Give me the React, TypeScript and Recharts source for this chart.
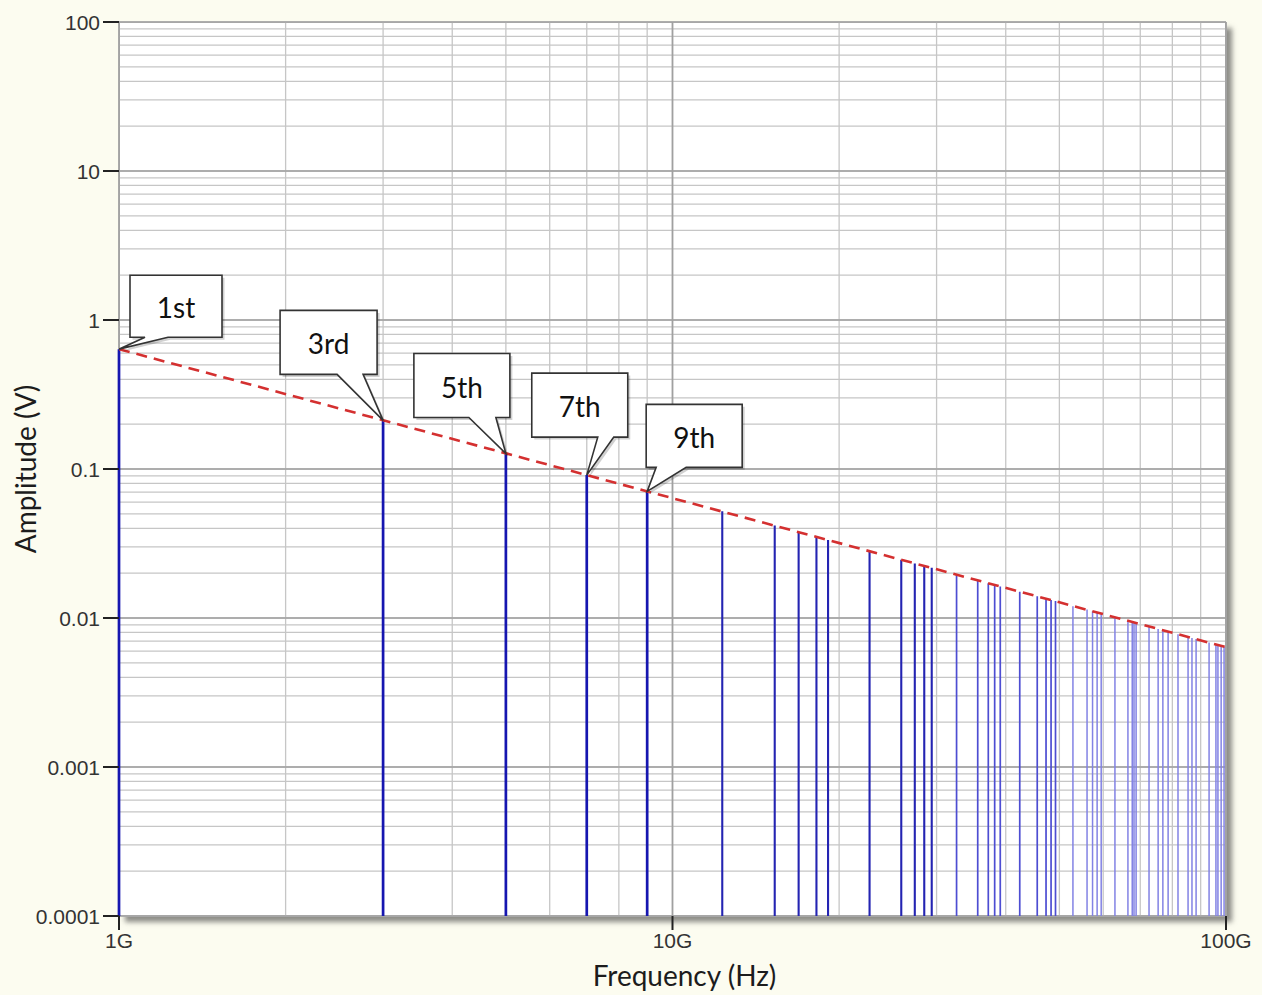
import { ComposedChart, XAxis, YAxis, CartesianGrid, Line, Scatter, ReferenceLine, Label } from 'recharts'

// spectral lines (GHz, volts)
const SPIKE_GHZ = [
  1, 3, 5, 7, 9, 12.3, 15.3, 16.9, 18.2, 19.1, 22.7, 25.9, 27.4, 28.5, 29.4, 32.6, 35.6, 37.2, 38.2, 39.1,
  42.4, 45.6, 47.3, 48.3, 49.2, 52.9, 56.1, 57.4, 58.5, 59.5, 63.0, 66.5, 67.7, 68.2, 68.8, 72.6, 75.4, 76.9,
  78.6, 81.9, 85.4, 86.8, 88.3, 93.2, 95.9, 96.7, 98.0, 99.2,
]
const SPIKE_AMP = [
  0.637, 0.212, 0.127, 0.091, 0.0708, 0.052, 0.0417, 0.0376, 0.0351, 0.0334, 0.028, 0.0246, 0.0232, 0.0223,
  0.0217, 0.0196, 0.0179, 0.0171, 0.0167, 0.0163, 0.015, 0.014, 0.0135, 0.0132, 0.013, 0.012, 0.0114, 0.0111,
  0.0109, 0.0107, 0.0101, 0.00957, 0.00942, 0.00934, 0.00926, 0.00878, 0.00845, 0.00828, 0.00811, 0.00778,
  0.00746, 0.00734, 0.00722, 0.00684, 0.00664, 0.00659, 0.0065, 0.00642,
]
const CALLOUT_LABELS = ['1st', '3rd', '5th', '7th', '9th']
const ENVELOPE_GHZ = [1, 100]
const ENVELOPE_AMP = [0.637, 0.00637]

const X_DECADES = [1, 10, 100]
const X_TICK_LABELS = ['1G', '10G', '100G']
const Y_DECADES = [0.0001, 0.001, 0.01, 0.1, 1, 10, 100]
const Y_TICK_LABELS = ['0.0001', '0.001', '0.01', '0.1', '1', '10', '100']
const MINOR_STEPS = [1, 2, 3, 4, 5, 6, 7, 8, 9]

const X_GRID = X_DECADES.slice(0, -1).flatMap((d) => MINOR_STEPS.map((s) => d * s)).concat([100])
const Y_GRID = Y_DECADES.slice(0, -1).flatMap((d) => MINOR_STEPS.map((s) => d * s)).concat([100])

const envelope = ENVELOPE_GHZ.map((f, i) => ({ f, amp: ENVELOPE_AMP[i] }))
const callouts = CALLOUT_LABELS.map((label, i) => ({ f: SPIKE_GHZ[i], amp: SPIKE_AMP[i], label }))

// box placement relative to the harmonic's tip
const CALLOUT_BOX: Record<string, { dx: number; dy: number; w: number; h: number; t0: number; t1: number }> = {
  '1st': { dx: 11, dy: -74, w: 92, h: 62, t0: 26, t1: 49 },
  '3rd': { dx: -103, dy: -110, w: 97, h: 64, t0: -46, t1: -20 },
  '5th': { dx: -92, dy: -100, w: 96, h: 64, t0: -37, t1: -10 },
  '7th': { dx: -55, dy: -102, w: 96, h: 64, t0: 11, t1: 27 },
  '9th': { dx: -1, dy: -87, w: 96, h: 63, t0: 9, t1: 39 },
}

const TICK_FONT = { fontFamily: '"Liberation Sans", Arial, sans-serif', fontSize: 21, fill: '#333' }
const TITLE_FONT = { fontFamily: 'Lato, "Open Sans", sans-serif', fontSize: 28, fill: '#1c1c1c' }

function spikeStyle(f: number) {
  if (f < 10) return { stroke: '#1616b0', width: 2.7 }
  if (f < 31) return { stroke: '#2424b2', width: 2.1 }
  if (f < 50) return { stroke: '#4d4dd2', width: 1.7 }
  return { stroke: '#8282e4', width: 1.5 }
}

const XTick = (props: any) => {
  const { x, y, payload } = props
  const i = X_DECADES.indexOf(payload.value)
  if (i < 0) return <g />
  return (
    <g>
      <line x1={x} x2={x} y1={y} y2={y + 14} stroke="#222" strokeWidth={2} />
      <text x={x} y={y + 32} textAnchor="middle" {...TICK_FONT}>
        {X_TICK_LABELS[i]}
      </text>
    </g>
  )
}

const YTick = (props: any) => {
  const { x, y, payload } = props
  const i = Y_DECADES.indexOf(payload.value)
  if (i < 0) return <g />
  return (
    <g>
      <line x1={x - 16} x2={x} y1={y} y2={y} stroke="#222" strokeWidth={2} />
      <text x={x - 19} y={y} textAnchor="end" dominantBaseline="central" {...TICK_FONT}>
        {Y_TICK_LABELS[i]}
      </text>
    </g>
  )
}

const YTitle = (props: any) => {
  const vb = props.viewBox
  const cx = vb.x + 25
  const cy = vb.y + vb.height / 2
  return (
    <text x={cx} y={cy} transform={`rotate(-90 ${cx} ${cy})`} textAnchor="middle" dominantBaseline="central" {...TITLE_FONT}>
      Amplitude (V)
    </text>
  )
}

const XTitle = (props: any) => {
  const vb = props.viewBox
  return (
    <text x={vb.x + vb.width / 2 + 12} y={vb.y + 70} textAnchor="middle" {...TITLE_FONT}>
      Frequency (Hz)
    </text>
  )
}

const Callout = (props: any) => {
  const { cx, cy, payload } = props
  const b = CALLOUT_BOX[payload.label]
  if (!b) return <g />
  const L = cx + b.dx
  const T = cy + b.dy
  const R = L + b.w
  const B = T + b.h
  const d = `M${L},${T}H${R}V${B}H${cx + b.t1}L${cx},${cy}L${cx + b.t0},${B}H${L}Z`
  return (
    <g>
      <path d={d} transform="translate(2.5,2.5)" fill="rgba(0,0,0,0.18)" />
      <path d={d} fill="#fff" stroke="#333" strokeWidth={1.6} />
      <text
        x={L + b.w / 2}
        y={T + b.h / 2 + 1}
        textAnchor="middle"
        dominantBaseline="central"
        fontFamily='Lato, "Open Sans", sans-serif'
        fontSize={28}
        fill="#111"
      >
        {payload.label}
      </text>
    </g>
  )
}

export default function App() {
  return (
    <div style={{ position: 'absolute', left: 0, top: 0, width: 1262, height: 995, background: '#fcfcf0' }}>
      <div
        style={{
          position: 'absolute',
          left: 119,
          top: 22,
          width: 1107,
          height: 894,
          background: '#fff',
          boxSizing: 'border-box',
          border: '1px solid #9a9a9a',
          boxShadow: '6px 6px 5px rgba(50,50,50,0.55)',
        }}
      />
      <div style={{ position: 'absolute', left: 0, top: 0 }}>
        <ComposedChart width={1262} height={995} margin={{ top: 22, right: 36, left: 0, bottom: 0 }}>
          <CartesianGrid stroke="#c6c6c6" strokeWidth={1.3} />
          <XAxis
            dataKey="f"
            type="number"
            scale="log"
            domain={[1, 100]}
            ticks={X_GRID}
            interval={0}
            allowDataOverflow
            tick={<XTick />}
            tickLine={false}
            axisLine={false}
            tickSize={0}
            tickMargin={0}
            height={79}
          >
            <Label content={<XTitle />} />
          </XAxis>
          <YAxis
            type="number"
            scale="log"
            domain={[0.0001, 100]}
            ticks={Y_GRID}
            interval={0}
            allowDataOverflow
            tick={<YTick />}
            tickLine={false}
            axisLine={false}
            tickSize={0}
            tickMargin={0}
            width={119}
          >
            <Label content={<YTitle />} />
          </YAxis>
          {X_DECADES.map((d) => (
            <ReferenceLine key={`xd-${d}`} x={d} stroke="#a0a0a0" strokeWidth={1.7} />
          ))}
          {Y_DECADES.map((d) => (
            <ReferenceLine key={`yd-${d}`} y={d} stroke="#a0a0a0" strokeWidth={1.7} />
          ))}
          {SPIKE_GHZ.map((f, i) => {
            const s = spikeStyle(f)
            return (
              <ReferenceLine
                key={`sp-${i}`}
                segment={[
                  { x: f, y: 0.0001 },
                  { x: f, y: SPIKE_AMP[i] },
                ]}
                stroke={s.stroke}
                strokeWidth={s.width}
                ifOverflow="visible"
              />
            )
          })}
          <Line
            data={envelope}
            dataKey="amp"
            type="linear"
            stroke="#d43030"
            strokeWidth={2.6}
            strokeDasharray="11 7"
            dot={false}
            activeDot={false}
            isAnimationActive={false}
          />
          <Scatter data={callouts} dataKey="amp" shape={<Callout />} isAnimationActive={false} />
        </ComposedChart>
      </div>
    </div>
  )
}
